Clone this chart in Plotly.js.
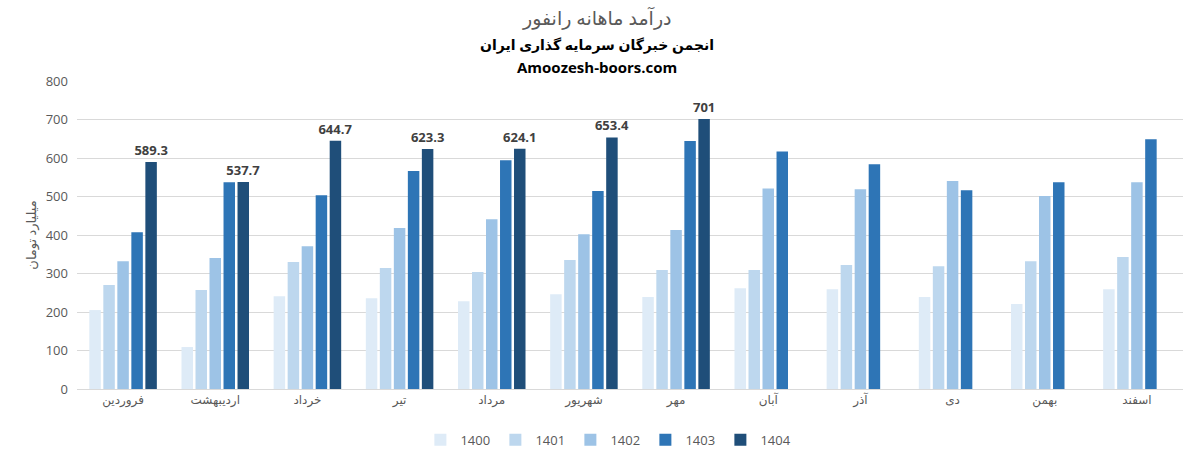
<!DOCTYPE html>
<html>
<head>
<meta charset="utf-8">
<script src="https://cdn.plot.ly/plotly-3.0.1.min.js"></script>
<style>html,body{margin:0;padding:0;background:#fff}#chart{width:1185px;height:462px}</style>
</head>
<body>
<div id="chart"></div>
<script>
const months = ["فروردین","اردیبهشت","خرداد","تیر","مرداد","شهریور","مهر","آبان","آذر","دی","بهمن","اسفند"];
const years = ["1400","1401","1402","1403","1404"];
const v1400 = [205,109,241,236,228,246,239,262,259,239,221,259];
const v1401 = [270,257,330,314,304,335,309,309,322,319,332,343];
const v1402 = [332,340,371,418,441,402,413,521,519,540,501,537];
const v1403 = [407,537,503,566,594,514,644,617,584,516,537,649];
const v1404 = [589.3,537.7,644.7,623.3,624.1,653.4,701,null,null,null,null,null];
const colors = ["#DEEBF7","#BDD7EE","#9DC3E6","#2E75B6","#1F4E79"];
const series = [v1400,v1401,v1402,v1403,v1404];

const font = 'Open Sans, DejaVu Sans, sans-serif';
const traces = series.map((vals,i)=>{
  const t = {
    type:'bar', name:years[i], x:months, y:vals,
    marker:{color:colors[i]},
    hoverinfo:'y'
  };
  if(i===4){
    t.text = vals.map(v=> v===null ? '' : String(v));
    t.textposition = 'outside';
    t.constraintext = 'none';
    t.cliponaxis = false;
    t.textfont = {family:font, size:13, color:'#404040', weight:'bold'};
  }
  return t;
});

const layout = {
  width:1185, height:462,
  margin:{l:77, r:2, t:81, b:73},
  paper_bgcolor:'#fff', plot_bgcolor:'#fff',
  barmode:'group', bargap:0.24, bargroupgap:0.18,
  font:{family:font, color:'#595959', size:12},
  showlegend:true,
  legend:{orientation:'h', x:0.48, xanchor:'center', yref:'container', y:0.048, yanchor:'middle',
          font:{size:13, color:'#595959'},
          itemwidth:30, entrywidth:30, traceorder:'normal'},
  xaxis:{type:'category', showgrid:false, showline:true, linecolor:'#D9D9D9', linewidth:1,
         ticks:'', tickfont:{size:12, color:'#595959'}, zeroline:false},
  yaxis:{range:[0,800], dtick:100, showgrid:true, gridcolor:'#D9D9D9', gridwidth:1,
         zeroline:false, showline:false, ticks:'', tickfont:{size:13, color:'#595959'},
         ticklabelstandoff:8,
         title:{text:'میلیارد تومان', font:{size:13, color:'#595959'}, standoff:6}},
  annotations:[
    {text:'درآمد ماهانه رانفور', xref:'paper', yref:'paper', x:0.47, y:1.205, showarrow:false,
     font:{size:19, color:'#595959', family:font}, yanchor:'middle'},
    {text:'<b>انجمن خبرگان سرمایه گذاری ایران</b>', xref:'paper', yref:'paper', x:0.47, y:1.118, showarrow:false,
     font:{size:14, color:'#000', family:font}, yanchor:'middle'},
    {text:'<b>Amoozesh-boors.com</b>', xref:'paper', yref:'paper', x:0.47, y:1.045, showarrow:false,
     font:{size:15, color:'#000', family:font}, yanchor:'middle'}
  ]
};
Plotly.newPlot('chart', traces, layout, {displayModeBar:false, staticPlot:true});
</script>
</body>
</html>
